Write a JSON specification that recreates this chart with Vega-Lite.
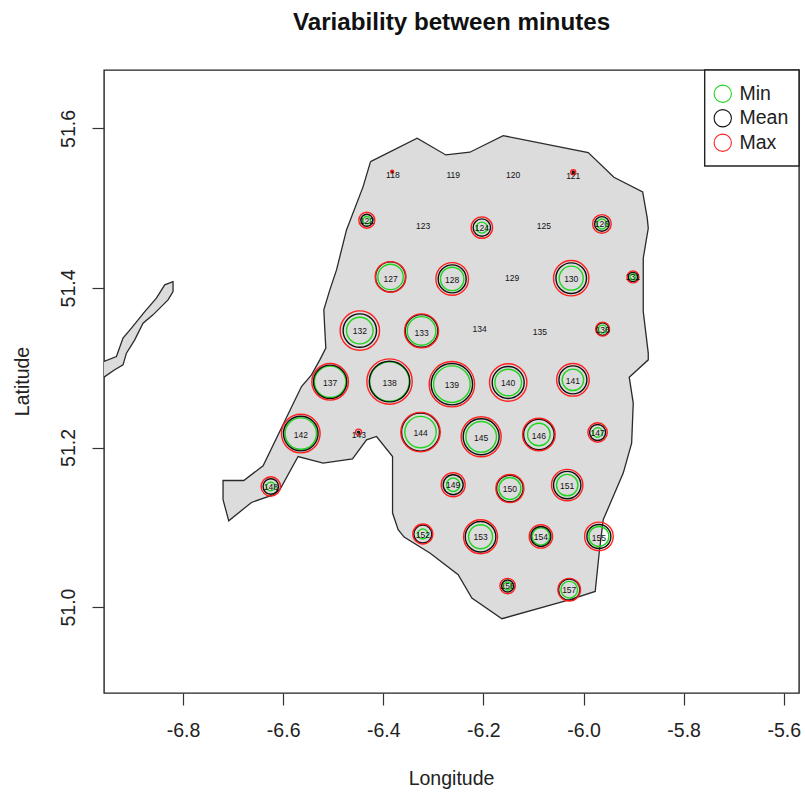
{
"$schema":"https://vega.github.io/schema/vega-lite/v6.json",
"width":695,"height":623,
"autosize":{"type":"none"},
"padding":{"left":104,"top":70,"right":6,"bottom":101},
"background":"white",
"view":{"stroke":"#222222","strokeWidth":1.4,"fill":"white"},
"title":{"text":"Variability between minutes","font":"Liberation Sans","fontSize":24.2,"fontWeight":"bold","color":"#111111","anchor":"middle","frame":"group","offset":34},
"config":{"font":"Liberation Sans"},
"datasets":{
"outline":[
{"p":"main","i":1,"lon":-6.4255,"lat":51.5584},{"p":"main","i":2,"lon":-6.3324,"lat":51.5877},{"p":"main","i":3,"lon":-6.2750,"lat":51.5668},{"p":"main","i":4,"lon":-6.2271,"lat":51.5702},{"p":"main","i":5,"lon":-6.1605,"lat":51.5910},{"p":"main","i":6,"lon":-5.9906,"lat":51.5697},{"p":"main","i":7,"lon":-5.9393,"lat":51.5388},{"p":"main","i":8,"lon":-5.8819,"lat":51.5204},{"p":"main","i":9,"lon":-5.8727,"lat":51.4875},{"p":"main","i":10,"lon":-5.8707,"lat":51.4749},{"p":"main","i":11,"lon":-5.8807,"lat":51.4373},{"p":"main","i":12,"lon":-5.8807,"lat":51.3704},{"p":"main","i":13,"lon":-5.8707,"lat":51.3183},{"p":"main","i":14,"lon":-5.8707,"lat":51.3099},{"p":"main","i":15,"lon":-5.9087,"lat":51.2882},{"p":"main","i":16,"lon":-5.9007,"lat":51.2556},{"p":"main","i":17,"lon":-5.9039,"lat":51.2055},{"p":"main","i":18,"lon":-5.9207,"lat":51.1679},{"p":"main","i":19,"lon":-5.9607,"lat":51.1094},{"p":"main","i":20,"lon":-5.9687,"lat":51.0680},{"p":"main","i":21,"lon":-5.9767,"lat":51.0195},{"p":"main","i":22,"lon":-6.0272,"lat":51.0092},{"p":"main","i":23,"lon":-6.1631,"lat":50.9853},{"p":"main","i":24,"lon":-6.2231,"lat":51.0113},{"p":"main","i":25,"lon":-6.2504,"lat":51.0405},{"p":"main","i":26,"lon":-6.3070,"lat":51.0677},{"p":"main","i":27,"lon":-6.3584,"lat":51.0877},{"p":"main","i":28,"lon":-6.3703,"lat":51.0969},{"p":"main","i":29,"lon":-6.3815,"lat":51.1178},{"p":"main","i":30,"lon":-6.3815,"lat":51.1887},{"p":"main","i":31,"lon":-6.4135,"lat":51.2138},{"p":"main","i":32,"lon":-6.4335,"lat":51.2096},{"p":"main","i":33,"lon":-6.4615,"lat":51.1858},{"p":"main","i":34,"lon":-6.5202,"lat":51.1805},{"p":"main","i":35,"lon":-6.5702,"lat":51.1887},{"p":"main","i":36,"lon":-6.6068,"lat":51.1470},{"p":"main","i":37,"lon":-6.6201,"lat":51.1407},{"p":"main","i":38,"lon":-6.6633,"lat":51.1311},{"p":"main","i":39,"lon":-6.7087,"lat":51.1081},{"p":"main","i":40,"lon":-6.7201,"lat":51.1345},{"p":"main","i":41,"lon":-6.7201,"lat":51.1586},{"p":"main","i":42,"lon":-6.6787,"lat":51.1586},{"p":"main","i":43,"lon":-6.6401,"lat":51.1771},{"p":"main","i":44,"lon":-6.5634,"lat":51.2764},{"p":"main","i":45,"lon":-6.5434,"lat":51.2911},{"p":"main","i":46,"lon":-6.5268,"lat":51.3099},{"p":"main","i":47,"lon":-6.5148,"lat":51.3246},{"p":"main","i":48,"lon":-6.5168,"lat":51.3475},{"p":"main","i":49,"lon":-6.5188,"lat":51.3726},{"p":"main","i":50,"lon":-6.5068,"lat":51.3976},{"p":"main","i":51,"lon":-6.4934,"lat":51.4227},{"p":"main","i":52,"lon":-6.4735,"lat":51.4728},{"p":"main","i":53,"lon":-6.4403,"lat":51.5271},{"p":"main","i":54,"lon":-6.4255,"lat":51.5584},
{"p":"strip","i":1,"lon":-6.9579,"lat":51.3078},{"p":"strip","i":2,"lon":-6.9331,"lat":51.3140},{"p":"strip","i":3,"lon":-6.9199,"lat":51.3371},{"p":"strip","i":4,"lon":-6.9031,"lat":51.3496},{"p":"strip","i":5,"lon":-6.8765,"lat":51.3704},{"p":"strip","i":6,"lon":-6.8532,"lat":51.3872},{"p":"strip","i":7,"lon":-6.8366,"lat":51.4039},{"p":"strip","i":8,"lon":-6.8200,"lat":51.4080},{"p":"strip","i":9,"lon":-6.8200,"lat":51.3955},{"p":"strip","i":10,"lon":-6.8300,"lat":51.3851},{"p":"strip","i":11,"lon":-6.8600,"lat":51.3663},{"p":"strip","i":12,"lon":-6.8799,"lat":51.3559},{"p":"strip","i":13,"lon":-6.8965,"lat":51.3350},{"p":"strip","i":14,"lon":-6.9131,"lat":51.3183},{"p":"strip","i":15,"lon":-6.9199,"lat":51.3036},{"p":"strip","i":16,"lon":-6.9365,"lat":51.2974},{"p":"strip","i":17,"lon":-6.9579,"lat":51.2882}
],
"stations":[
{"id":118,"lon":-6.3823,"lat":51.5459,"stat":"Min","v":1},{"id":118,"lon":-6.3823,"lat":51.5459,"stat":"Mean","v":1.5},{"id":118,"lon":-6.3823,"lat":51.5459,"stat":"Max","v":3},
{"id":121,"lon":-6.0206,"lat":51.5451,"stat":"Min","v":1},{"id":121,"lon":-6.0206,"lat":51.5451,"stat":"Mean","v":2},{"id":121,"lon":-6.0206,"lat":51.5451,"stat":"Max","v":5},
{"id":122,"lon":-6.4329,"lat":51.4850,"stat":"Min","v":7.4},{"id":122,"lon":-6.4329,"lat":51.4850,"stat":"Mean","v":12},{"id":122,"lon":-6.4329,"lat":51.4850,"stat":"Max","v":16},
{"id":124,"lon":-6.2031,"lat":51.4757,"stat":"Min","v":11},{"id":124,"lon":-6.2031,"lat":51.4757,"stat":"Mean","v":17.4},{"id":124,"lon":-6.2031,"lat":51.4757,"stat":"Max","v":21.4},
{"id":126,"lon":-5.9633,"lat":51.4803,"stat":"Min","v":10},{"id":126,"lon":-5.9633,"lat":51.4803,"stat":"Mean","v":14.6},{"id":126,"lon":-5.9633,"lat":51.4803,"stat":"Max","v":18.6},
{"id":127,"lon":-6.3855,"lat":51.4139,"stat":"Min","v":25.4},{"id":127,"lon":-6.3855,"lat":51.4139,"stat":"Mean","v":30},{"id":127,"lon":-6.3855,"lat":51.4139,"stat":"Max","v":30.6},
{"id":128,"lon":-6.2624,"lat":51.4114,"stat":"Min","v":23.4},{"id":128,"lon":-6.2624,"lat":51.4114,"stat":"Mean","v":28},{"id":128,"lon":-6.2624,"lat":51.4114,"stat":"Max","v":32.6},
{"id":130,"lon":-6.0246,"lat":51.4123,"stat":"Min","v":24},{"id":130,"lon":-6.0246,"lat":51.4123,"stat":"Mean","v":30.6},{"id":130,"lon":-6.0246,"lat":51.4123,"stat":"Max","v":35.4},
{"id":131,"lon":-5.9013,"lat":51.4139,"stat":"Min","v":6},{"id":131,"lon":-5.9013,"lat":51.4139,"stat":"Mean","v":9.4},{"id":131,"lon":-5.9013,"lat":51.4139,"stat":"Max","v":12},
{"id":132,"lon":-6.4469,"lat":51.3466,"stat":"Min","v":26.6},{"id":132,"lon":-6.4469,"lat":51.3466,"stat":"Mean","v":33.4},{"id":132,"lon":-6.4469,"lat":51.3466,"stat":"Max","v":39.4},
{"id":133,"lon":-6.3236,"lat":51.3462,"stat":"Min","v":28.6},{"id":133,"lon":-6.3236,"lat":51.3462,"stat":"Mean","v":32.6},{"id":133,"lon":-6.3236,"lat":51.3462,"stat":"Max","v":34},
{"id":136,"lon":-5.9619,"lat":51.3484,"stat":"Min","v":8},{"id":136,"lon":-5.9619,"lat":51.3484,"stat":"Mean","v":12.6},{"id":136,"lon":-5.9619,"lat":51.3484,"stat":"Max","v":14},
{"id":137,"lon":-6.5062,"lat":51.2823,"stat":"Min","v":31.4},{"id":137,"lon":-6.5062,"lat":51.2823,"stat":"Mean","v":33.4},{"id":137,"lon":-6.5062,"lat":51.2823,"stat":"Max","v":36.6},
{"id":138,"lon":-6.3875,"lat":51.2827,"stat":"Min","v":39.4},{"id":138,"lon":-6.3875,"lat":51.2827,"stat":"Mean","v":40.6},{"id":138,"lon":-6.3875,"lat":51.2827,"stat":"Max","v":45.4},
{"id":139,"lon":-6.2630,"lat":51.2794,"stat":"Min","v":36.6},{"id":139,"lon":-6.2630,"lat":51.2794,"stat":"Mean","v":41.4},{"id":139,"lon":-6.2630,"lat":51.2794,"stat":"Max","v":45.4},
{"id":140,"lon":-6.1505,"lat":51.2815,"stat":"Min","v":26.6},{"id":140,"lon":-6.1505,"lat":51.2815,"stat":"Mean","v":32},{"id":140,"lon":-6.1505,"lat":51.2815,"stat":"Max","v":37.4},
{"id":141,"lon":-6.0212,"lat":51.2848,"stat":"Min","v":21.4},{"id":141,"lon":-6.0212,"lat":51.2848,"stat":"Mean","v":28},{"id":141,"lon":-6.0212,"lat":51.2848,"stat":"Max","v":32.6},
{"id":142,"lon":-6.5648,"lat":51.2175,"stat":"Min","v":31.4},{"id":142,"lon":-6.5648,"lat":51.2175,"stat":"Mean","v":34.6},{"id":142,"lon":-6.5648,"lat":51.2175,"stat":"Max","v":38.6},
{"id":143,"lon":-6.4495,"lat":51.2193,"stat":"Min","v":1},{"id":143,"lon":-6.4495,"lat":51.2193,"stat":"Mean","v":2},{"id":143,"lon":-6.4495,"lat":51.2193,"stat":"Max","v":6},
{"id":144,"lon":-6.3256,"lat":51.2193,"stat":"Min","v":31.4},{"id":144,"lon":-6.3256,"lat":51.2193,"stat":"Mean","v":38},{"id":144,"lon":-6.3256,"lat":51.2193,"stat":"Max","v":39.4},
{"id":145,"lon":-6.2045,"lat":51.2134,"stat":"Min","v":30.6},{"id":145,"lon":-6.2045,"lat":51.2134,"stat":"Mean","v":36},{"id":145,"lon":-6.2045,"lat":51.2134,"stat":"Max","v":40},
{"id":146,"lon":-6.0892,"lat":51.2163,"stat":"Min","v":22.6},{"id":146,"lon":-6.0892,"lat":51.2163,"stat":"Mean","v":30.6},{"id":146,"lon":-6.0892,"lat":51.2163,"stat":"Max","v":32.6},
{"id":147,"lon":-5.9719,"lat":51.2188,"stat":"Min","v":9.4},{"id":147,"lon":-5.9719,"lat":51.2188,"stat":"Mean","v":16},{"id":147,"lon":-5.9719,"lat":51.2188,"stat":"Max","v":19.4},
{"id":148,"lon":-6.6247,"lat":51.1511,"stat":"Min","v":8.6},{"id":148,"lon":-6.6247,"lat":51.1511,"stat":"Mean","v":15.4},{"id":148,"lon":-6.6247,"lat":51.1511,"stat":"Max","v":19.4},
{"id":149,"lon":-6.2604,"lat":51.1533,"stat":"Min","v":13.4},{"id":149,"lon":-6.2604,"lat":51.1533,"stat":"Mean","v":20},{"id":149,"lon":-6.2604,"lat":51.1533,"stat":"Max","v":24},
{"id":150,"lon":-6.1471,"lat":51.1486,"stat":"Min","v":22},{"id":150,"lon":-6.1471,"lat":51.1486,"stat":"Mean","v":26.6},{"id":150,"lon":-6.1471,"lat":51.1486,"stat":"Max","v":28},
{"id":151,"lon":-6.0326,"lat":51.1529,"stat":"Min","v":21.4},{"id":151,"lon":-6.0326,"lat":51.1529,"stat":"Mean","v":27.4},{"id":151,"lon":-6.0326,"lat":51.1529,"stat":"Max","v":31.4},
{"id":152,"lon":-6.3210,"lat":51.0915,"stat":"Min","v":10},{"id":152,"lon":-6.3210,"lat":51.0915,"stat":"Mean","v":18},{"id":152,"lon":-6.3210,"lat":51.0915,"stat":"Max","v":20},
{"id":153,"lon":-6.2057,"lat":51.0881,"stat":"Min","v":24},{"id":153,"lon":-6.2057,"lat":51.0881,"stat":"Mean","v":30.6},{"id":153,"lon":-6.2057,"lat":51.0881,"stat":"Max","v":34},
{"id":154,"lon":-6.0852,"lat":51.0885,"stat":"Min","v":17.4},{"id":154,"lon":-6.0852,"lat":51.0885,"stat":"Mean","v":20},{"id":154,"lon":-6.0852,"lat":51.0885,"stat":"Max","v":23.4},
{"id":155,"lon":-5.9693,"lat":51.0885,"stat":"Min","v":20},{"id":155,"lon":-5.9693,"lat":51.0885,"stat":"Mean","v":24},{"id":155,"lon":-5.9693,"lat":51.0885,"stat":"Max","v":28.6},
{"id":156,"lon":-6.1517,"lat":51.0263,"stat":"Min","v":8},{"id":156,"lon":-6.1517,"lat":51.0263,"stat":"Mean","v":12},{"id":156,"lon":-6.1517,"lat":51.0263,"stat":"Max","v":15.4},
{"id":157,"lon":-6.0286,"lat":51.0217,"stat":"Min","v":16.6},{"id":157,"lon":-6.0286,"lat":51.0217,"stat":"Mean","v":21.4},{"id":157,"lon":-6.0286,"lat":51.0217,"stat":"Max","v":22.6}
],
"labels":[
{"id":"118","lon":-6.3809,"lat":51.5417},{"id":"119","lon":-6.2604,"lat":51.5421},{"id":"120","lon":-6.1405,"lat":51.5421},{"id":"121","lon":-6.0206,"lat":51.5405},{"id":"122","lon":-6.4329,"lat":51.4835},{"id":"123","lon":-6.3204,"lat":51.4778},{"id":"124","lon":-6.2031,"lat":51.4753},{"id":"125","lon":-6.0792,"lat":51.4774},{"id":"126","lon":-5.9633,"lat":51.4797},{"id":"127","lon":-6.3855,"lat":51.4114},{"id":"128","lon":-6.2624,"lat":51.4095},{"id":"129","lon":-6.1425,"lat":51.4130},{"id":"130","lon":-6.0246,"lat":51.4114},{"id":"131","lon":-5.9013,"lat":51.4133},{"id":"132","lon":-6.4469,"lat":51.3456},{"id":"133","lon":-6.3236,"lat":51.3437},{"id":"134","lon":-6.2077,"lat":51.3487},{"id":"135","lon":-6.0872,"lat":51.3454},{"id":"136","lon":-5.9619,"lat":51.3475},{"id":"137","lon":-6.5062,"lat":51.2811},{"id":"138","lon":-6.3875,"lat":51.2811},{"id":"139","lon":-6.2630,"lat":51.2786},{"id":"140","lon":-6.1505,"lat":51.2811},{"id":"141","lon":-6.0212,"lat":51.2830},{"id":"142","lon":-6.5648,"lat":51.2159},{"id":"143","lon":-6.4489,"lat":51.2159},{"id":"144","lon":-6.3256,"lat":51.2178},{"id":"145","lon":-6.2045,"lat":51.2115},{"id":"146","lon":-6.0892,"lat":51.2147},{"id":"147","lon":-5.9719,"lat":51.2184},{"id":"148","lon":-6.6247,"lat":51.1508},{"id":"149","lon":-6.2604,"lat":51.1526},{"id":"150","lon":-6.1471,"lat":51.1482},{"id":"151","lon":-6.0326,"lat":51.1520},{"id":"152","lon":-6.3210,"lat":51.0906},{"id":"153","lon":-6.2057,"lat":51.0875},{"id":"154","lon":-6.0852,"lat":51.0881},{"id":"155","lon":-5.9693,"lat":51.0868},{"id":"156","lon":-6.1517,"lat":51.0261},{"id":"157","lon":-6.0286,"lat":51.0211}
],
"box":[{"x0":-5.7580,"x1":-5.5696,"y0":51.6733,"y1":51.5530}]
},
"layer":[
{"data":{"name":"outline"},
 "mark":{"type":"line","fill":"#dcdcdc","stroke":"#2a2a2a","strokeWidth":1.3,"clip":true,"interpolate":"linear"},
 "encoding":{
  "x":{"field":"lon","type":"quantitative","scale":{"domain":[-6.9579,-5.5696],"nice":false,"zero":false},
   "axis":{"values":[-6.8,-6.6,-6.4,-6.2,-6.0,-5.8,-5.6],"labelExpr":"replace(format(datum.value,'.1f'),'\u2212','-')","domain":false,"grid":false,"tickSize":12,"tickColor":"#333333","tickWidth":1.2,"labelFont":"Liberation Sans","labelFontSize":19.5,"labelColor":"#222222","labelPadding":16,"labelOverlap":false,"labelFlush":false,"labelBound":false,"title":"Longitude","titleFont":"Liberation Sans","titleFontSize":19.5,"titleFontWeight":"normal","titleColor":"#222222","titleX":347,"titleY":85,"titleBaseline":"middle"}},
  "y":{"field":"lat","type":"quantitative","scale":{"domain":[50.8922,51.6733],"nice":false,"zero":false},
   "axis":{"values":[51.0,51.2,51.4,51.6],"format":".1f","domain":false,"grid":false,"tickSize":12,"tickColor":"#333333","tickWidth":1.2,"labelFont":"Liberation Sans","labelFontSize":19.5,"labelColor":"#222222","labelAngle":270,"labelAlign":"center","labelBaseline":"bottom","labelPadding":14,"labelOverlap":false,"labelFlush":false,"labelBound":false,"title":"Latitude","titleFont":"Liberation Sans","titleFontSize":19.5,"titleFontWeight":"normal","titleColor":"#222222","titleX":-82,"titleY":311,"titleBaseline":"middle","titleAngle":270,"titleAlign":"center"}},
  "detail":{"field":"p","type":"nominal"},
  "order":{"field":"i","type":"quantitative"}
 }},
{"data":{"name":"box"},
 "mark":{"type":"rect","fill":"white","stroke":"#222222","strokeWidth":1.4},
 "encoding":{"x":{"field":"x0","type":"quantitative"},"x2":{"field":"x1"},"y":{"field":"y0","type":"quantitative"},"y2":{"field":"y1"}}},
{"data":{"name":"stations"},
 "mark":{"type":"point","shape":"circle","filled":false,"opacity":1,"strokeWidth":1.4},
 "encoding":{
  "x":{"field":"lon","type":"quantitative"},
  "y":{"field":"lat","type":"quantitative"},
  "size":{"field":"v","type":"quantitative","legend":null,"scale":{"type":"pow","exponent":2,"domain":[0,50],"range":[0,2500]}},
  "color":{"field":"stat","type":"nominal","sort":["Min","Mean","Max"],"scale":{"domain":["Min","Mean","Max"],"range":["#1fd41f","#111111","#ff1f1f"]},
   "legend":{"title":null,"orient":"none","legendX":609,"legendY":14,"padding":0,"symbolType":"circle","symbolSize":300,"symbolStrokeWidth":1.1,"symbolOpacity":1,"labelFont":"Liberation Sans","labelFontSize":19.5,"labelColor":"#222222","labelOffset":7,"rowPadding":1.5,"encode":{"labels":{"update":{"dy":{"value":2.5}}}}}}
 }},
{"data":{"name":"labels"},
 "mark":{"type":"text","font":"Liberation Sans","fontSize":8.5,"color":"#111111","align":"center","baseline":"middle"},
 "encoding":{"x":{"field":"lon","type":"quantitative"},"y":{"field":"lat","type":"quantitative"},"text":{"field":"id","type":"nominal"}}}
]
}
